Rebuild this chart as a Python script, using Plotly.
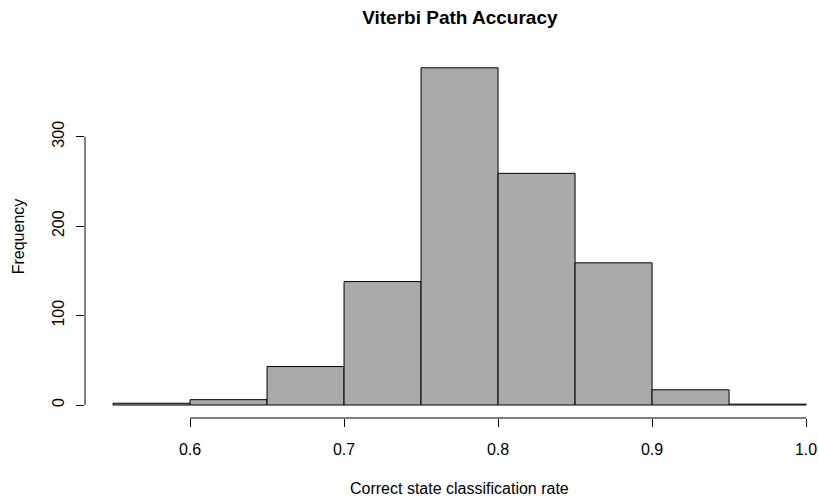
import plotly.graph_objects as go

bin_edges = [0.55, 0.60, 0.65, 0.70, 0.75, 0.80, 0.85, 0.90, 0.95, 1.00]
counts = [2, 6, 43, 138, 377, 259, 159, 17, 1]
x_ticks = [0.6, 0.7, 0.8, 0.9, 1.0]
x_tick_labels = ["0.6", "0.7", "0.8", "0.9", "1.0"]
y_ticks = [0, 100, 200, 300]
y_tick_labels = ["0", "100", "200", "300"]

mids = [(a + b) / 2 for a, b in zip(bin_edges[:-1], bin_edges[1:])]
widths = [b - a for a, b in zip(bin_edges[:-1], bin_edges[1:])]

font = "Liberation Sans, Arial, sans-serif"

fig = go.Figure(go.Bar(
    x=mids, y=counts, width=widths,
    marker=dict(color="#AAAAAA", line=dict(color="black", width=1)),
    hoverinfo="skip",
))

fig.update_layout(
    width=819, height=499,
    margin=dict(l=85, r=0, t=55, b=81),
    paper_bgcolor="white", plot_bgcolor="white",
    showlegend=False,
    font=dict(family=font, size=16, color="black"),
    title=dict(text="<b>Viterbi Path Accuracy</b>", x=0.5 + 0.5 * 15 / 734 + 0.0005, xref="paper",
               xanchor="center",
               y=1 - 17 / 499, yanchor="middle", font=dict(size=19, family=font, color="black")),
    xaxis=dict(range=[0.5318, 1.0084], tickvals=x_ticks, ticktext=x_tick_labels,
               ticks="outside", ticklen=8, tickcolor="black", tickwidth=1,
               ticklabelstandoff=9,
               showgrid=False, zeroline=False, showline=False,
               tickfont=dict(size=16)),
    yaxis=dict(range=[-14.5, 391.3], tickvals=y_ticks, ticktext=y_tick_labels,
               ticks="outside", ticklen=8, tickcolor="black", tickwidth=1, tickangle=-90,
               ticklabelstandoff=6,
               showgrid=False, zeroline=False, showline=False,
               tickfont=dict(size=16),
               title=dict(text="Frequency", standoff=20, font=dict(size=16))),
    annotations=[
        dict(text="Correct state classification rate", xref="paper", yref="paper",
             x=0.5 + 0.5 * 15 / 734, y=-70 / 363, xanchor="center", yanchor="middle",
             showarrow=False, font=dict(size=16, family=font, color="black")),
    ],
    shapes=[
        dict(type="line", xref="x", yref="paper", x0=x_ticks[0], x1=x_ticks[-1], y0=0, y1=0,
             line=dict(color="black", width=1)),
        dict(type="line", xref="paper", yref="y", x0=0, x1=0, y0=y_ticks[0], y1=y_ticks[-1],
             line=dict(color="black", width=1)),
    ],
)

fig.write_html("out.html")
